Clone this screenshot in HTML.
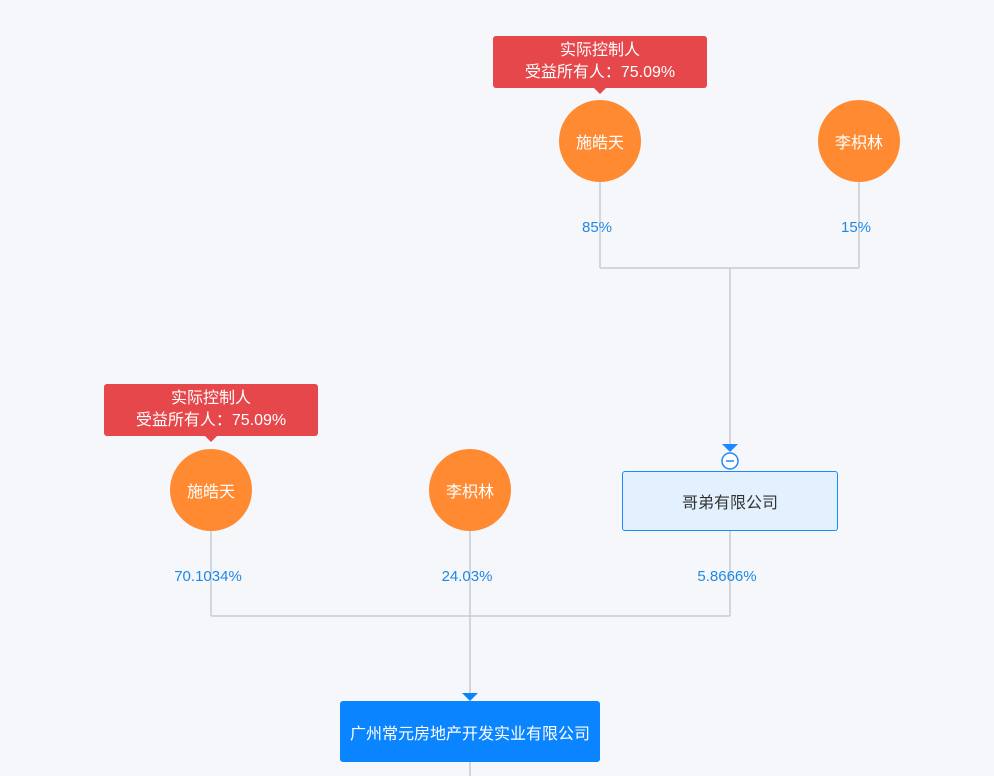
<!DOCTYPE html>
<html><head><meta charset="utf-8"><style>
body{margin:0;width:994px;height:776px;background:#f5f7fb;position:relative;overflow:hidden;font-family:"Liberation Sans","Noto Sans CJK SC",sans-serif;}
.c{position:absolute;width:82px;height:82px;border-radius:50%;background:#ff8a32;color:#fff;font-size:16px;display:flex;align-items:center;justify-content:center;}
.tip{position:absolute;width:214px;height:52px;background:#e5474a;border-radius:3px;color:#fff;font-size:16px;text-align:center;line-height:22px;padding-top:4px;box-sizing:border-box;}
.tip:after{content:"";position:absolute;left:101px;bottom:-6px;border-left:6px solid transparent;border-right:6px solid transparent;border-top:6px solid #e5474a;}
.p{position:absolute;color:#1e88e5;font-size:15px;width:120px;text-align:center;margin-left:-60px;}
</style></head><body>
<svg width="994" height="776" style="position:absolute;left:0;top:0">
<g stroke="#c8ccd2" stroke-width="1.5" fill="none">
<path d="M600 182V268M859 182V268M600 268H859M730 268V447"/>
<path d="M211 531V616M470 531V695M730 530V616M211 616H730M470 762V776"/>
</g>
<polygon points="722,444 738,444 730,452" fill="#1e88ff"/>
<circle cx="730" cy="461" r="8" fill="#fff" stroke="#1e88ff" stroke-width="1.5"/>
<line x1="726" y1="461" x2="734" y2="461" stroke="#1e88ff" stroke-width="1.5"/>
<polygon points="462,693 478,693 470,701" fill="#0a84ff"/>
</svg>
<div class="tip" style="left:493px;top:36px">实际控制人<br>受益所有人：75.09%</div>
<div class="c" style="left:559px;top:100px">施皓天</div>
<div class="c" style="left:818px;top:100px">李枳林</div>
<div class="p" style="left:597px;top:219px">85%</div>
<div class="p" style="left:856px;top:219px">15%</div>
<div style="position:absolute;left:622px;top:471px;width:214px;height:58px;border:1px solid #1e88ff;border-radius:3px;background:#e3f1ff;color:#333;font-size:16px;display:flex;align-items:center;justify-content:center;">哥弟有限公司</div>
<div class="tip" style="left:104px;top:384px">实际控制人<br>受益所有人：75.09%</div>
<div class="c" style="left:170px;top:449px">施皓天</div>
<div class="c" style="left:429px;top:449px">李枳林</div>
<div class="p" style="left:208px;top:568px">70.1034%</div>
<div class="p" style="left:467px;top:568px">24.03%</div>
<div class="p" style="left:727px;top:568px">5.8666%</div>
<div style="position:absolute;left:340px;top:701px;width:260px;height:61px;border-radius:3px;background:#0a84ff;color:#fff;font-size:16px;display:flex;align-items:center;justify-content:center;">广州常元房地产开发实业有限公司</div>
</body></html>
